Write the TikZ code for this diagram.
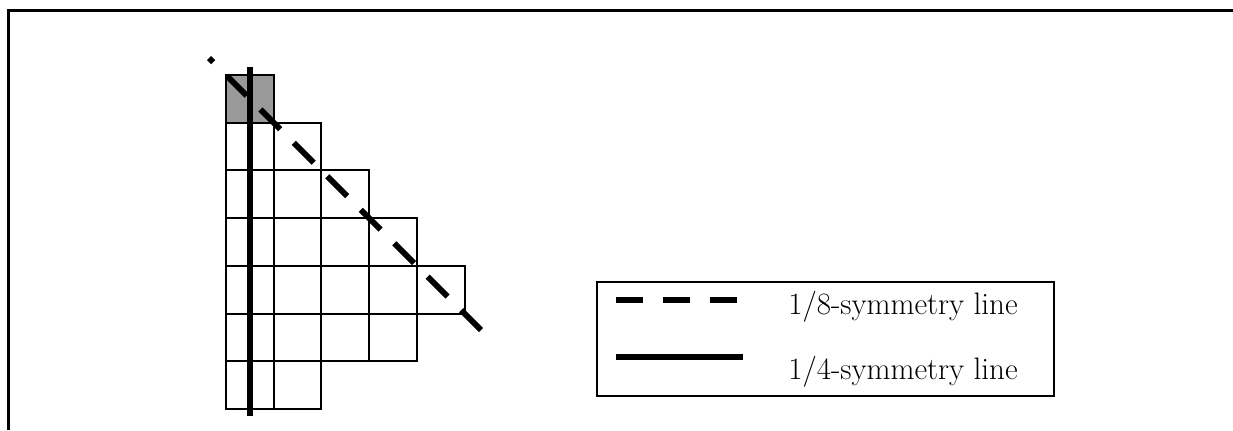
\documentclass[tikz,border=0pt]{standalone}
\usepackage{fontspec}
\setmainfont{Latin Modern Roman}
\begin{document}
\begin{tikzpicture}[x=0.75pt,y=-0.75pt,
  cell/.style={draw, line width=1.5pt, minimum size=35.775pt, inner sep=0pt, outer sep=0pt, anchor=north west},
  shaded/.style={cell, fill=black!40},
  symeight/.style={line width=4.5pt, dash pattern=on 21pt off 14.5pt},
  symquarter/.style={line width=4.5pt},
  legtext/.style={anchor=base west, inner sep=0pt, font=\fontsize{23.3}{28}\selectfont}]
\useasboundingbox (0,0) rectangle (1233,430);
% outer frame
\coordinate (fbl) at (8.5,430);
\coordinate (ftl) at (8.5,10.5);
\coordinate (ftr) at (1233,10.5);
\draw[line width=2.4pt] (fbl) -- (ftl) -- (ftr);
% grid
\node[shaded] (c0-1) at (226,75) {};
\foreach \r/\n in {1/2,2/3,3/4,4/5,5/4,6/2}{
  \foreach \c in {1,...,\n}{
    \node[cell] (c\r-\c) at ({226+(\c-1)*47.7},{75+\r*47.7}) {};
  }
}
% 1/4 symmetry line
\coordinate (qtop) at (250,67);
\coordinate (qbot) at (250,416);
\draw[symquarter] (qtop) -- (qbot);
% 1/8 symmetry line
\coordinate (estart) at (481,330);
\coordinate (eend) at (209,58);
\draw[symeight] (estart) -- (eend);
% legend
\node[draw, line width=1.5pt, minimum width=343pt, minimum height=85.5pt, inner sep=0pt, anchor=north west] (legend) at (596,281) {};
\coordinate (l1a) at (616,300);
\coordinate (l1b) at (738,300);
\draw[line width=5pt, dash pattern=on 20.25pt off 15pt] (l1a) -- (l1b);
\coordinate (l2a) at (616,357);
\coordinate (l2b) at (743,357);
\draw[line width=5pt] (l2a) -- (l2b);
\node[legtext] (t1) at (788,314) {1/8-symmetry line};
\node[legtext] (t2) at (788,379) {1/4-symmetry line};
\end{tikzpicture}
\end{document}
